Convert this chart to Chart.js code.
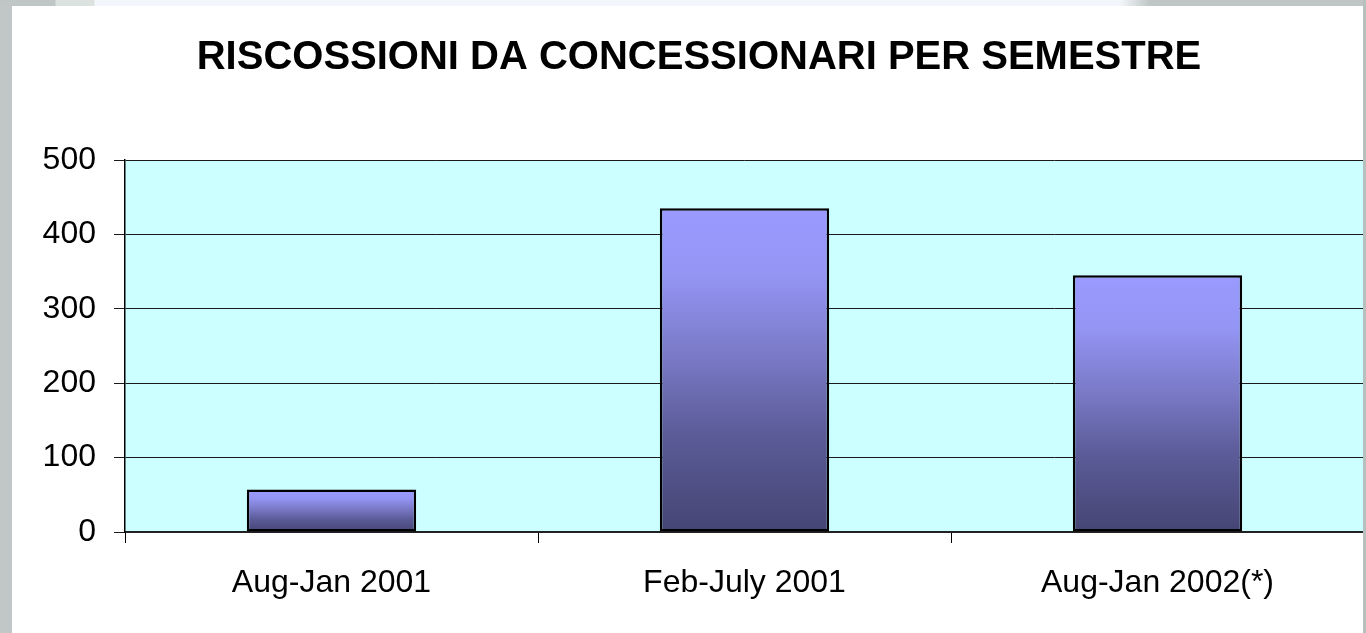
<!DOCTYPE html>
<html>
<head>
<meta charset="utf-8">
<script src="https://cdn.jsdelivr.net/npm/chart.js@4/dist/chart.umd.min.js"></script>
<style>
  html, body { margin: 0; padding: 0; width: 1366px; height: 633px; overflow: hidden; background: #c0c7c6; }
  #topstrip { position: absolute; left: 0; top: 0; width: 1366px; height: 6px;
    background: linear-gradient(to right, #bfc6c5 0px, #bfc6c5 55px, #dce2e0 56px, #dce2e0 94px, #f3f7fb 95px, #f3f7fb 1120px, #c0c6c6 1150px, #c0c6c6 1366px); }
  #panel { position: absolute; left: 12px; top: 6px; width: 1351px; height: 627px; background: #ffffff; }
  #rightstrip { position: absolute; left: 1363px; top: 0; width: 3px; height: 633px; background: #b8bfbf; z-index: 5; }
  #wrap { position: absolute; left: 0; top: 0; width: 1366px; height: 633px; }
</style>
</head>
<body>
<div id="topstrip"></div>
<div id="panel"></div>
<div id="wrap"><canvas id="c" width="1366" height="633"></canvas></div>
<div id="rightstrip"></div>
<script>
const categories = ['Aug-Jan 2001', 'Feb-July 2001', 'Aug-Jan 2002(*)'];
const riscossioni = [57, 435, 345];
const yTicks = [0, 100, 200, 300, 400, 500];
const chartTitle = 'RISCOSSIONI DA CONCESSIONARI PER SEMESTRE';

const plotBg = {
  id: 'plotBg',
  beforeDraw(chart) {
    const { ctx, chartArea } = chart;
    if (!chartArea) return;
    ctx.save();
    ctx.fillStyle = '#ccffff';
    ctx.fillRect(chartArea.left, chartArea.top, chartArea.right - chartArea.left, chartArea.bottom - chartArea.top);
    ctx.restore();
  }
};

function barGradient(context) {
  const chart = context.chart;
  const { ctx, chartArea, scales } = chart;
  if (!chartArea || !scales.y) return '#9999ff';
  const v = context.raw;
  const top = scales.y.getPixelForValue(v);
  const bottom = scales.y.getPixelForValue(0);
  if (!isFinite(top) || !isFinite(bottom) || bottom - top < 1) return '#9999ff';
  const g = ctx.createLinearGradient(0, top, 0, bottom);
  g.addColorStop(0, '#9a9aff');
  g.addColorStop(0.2, '#9595f5');
  g.addColorStop(0.45, '#7a7ac8');
  g.addColorStop(0.7, '#5b5b98');
  g.addColorStop(1, '#454574');
  return g;
}

new Chart(document.getElementById('c'), {
  type: 'bar',
  data: {
    labels: categories,
    datasets: [{
      data: riscossioni,
      backgroundColor: barGradient,
      borderColor: '#000000',
      borderWidth: 2.5,
      borderSkipped: false,
      categoryPercentage: 1.0,
      barPercentage: 0.41
    }]
  },
  options: {
    responsive: false,
    animation: false,
    devicePixelRatio: 1,
    layout: { padding: { left: 34, top: 6, right: 2, bottom: 0 } },
    plugins: {
      legend: { display: false },
      tooltip: { enabled: false },
      title: {
        display: true,
        text: chartTitle,
        color: '#000000',
        font: { family: '"Liberation Sans", Arial, sans-serif', size: 40, weight: 'bold', lineHeight: 1.2 },
        padding: { top: 28, bottom: 78 }
      }
    },
    scales: {
      x: {
        afterFit(scale) { scale.height = 101; },
        grid: { display: true, drawOnChartArea: false, drawTicks: true, tickLength: 11, color: '#000000', lineWidth: 1, offset: true },
        border: { display: true, color: '#222222', width: 2 },
        ticks: {
          color: '#000000',
          padding: 21,
          maxRotation: 0,
          font: { family: '"Liberation Sans", Arial, sans-serif', size: 32, lineHeight: 1.2 }
        }
      },
      y: {
        min: 0,
        max: 500,
        afterFit(scale) { scale.width = 91; },
        afterBuildTicks(scale) { scale.ticks = yTicks.map(v => ({ value: v })); },
        grid: { display: true, drawOnChartArea: true, drawTicks: true, tickLength: 11, color: '#1a1a1a', lineWidth: 1 },
        border: { display: true, color: '#000000', width: 1.5 },
        ticks: {
          color: '#000000',
          padding: 18,
          font: { family: '"Liberation Sans", Arial, sans-serif', size: 32, lineHeight: 1.2 }
        }
      }
    }
  },
  plugins: [plotBg]
});
</script>
</body>
</html>
